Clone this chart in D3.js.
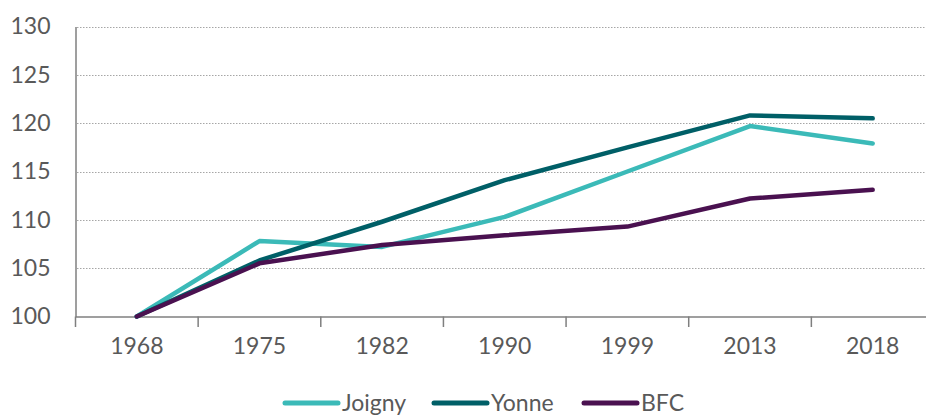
<!DOCTYPE html>
<html><head><meta charset="utf-8">
<script src="https://cdn.jsdelivr.net/npm/d3@7"></script>
<style>body{margin:0;background:#fff}svg{display:block}</style>
</head><body><svg id="c" width="926" height="416"></svg>
<script>
const years = ["1968","1975","1982","1990","1999","2013","2018"];
const joigny = [100, 107.8, 107.2, 110.3, 115.0, 119.7, 117.9];
const yonne  = [100, 105.8, 109.8, 114.1, 117.5, 120.8, 120.5];
const bfc    = [100, 105.5, 107.4, 108.4, 109.3, 112.2, 113.1];
const yTicks = [100,105,110,115,120,125,130];
const seriesNames = ["Joigny","Yonne","BFC"];
const colors = ["#3BBAB8","#005F67","#4A1150"];

const svg = d3.select("#c");
const font = "Lato, 'Open Sans', sans-serif";
const fs = 23;
const x = d3.scaleBand().domain(years).range([75.5, 934]);
const y = d3.scaleLinear().domain([100,130]).range([316.5, 26.5]);

// gridlines
svg.append("g").selectAll("line").data(yTicks.filter(t=>t>100)).join("line")
  .attr("x1",77).attr("x2",926).attr("y1",d=>Math.round(y(d))+0.5).attr("y2",d=>Math.round(y(d))+0.5)
  .attr("stroke","#a6a6a6").attr("stroke-width",1).attr("stroke-dasharray","1.5,1.5");

// y axis
const ya = svg.append("g").attr("transform","translate(75.5,0)")
  .call(d3.axisLeft(y).tickValues(yTicks).tickSize(0).tickPadding(25));
ya.select(".domain").attr("stroke","#7f7f7f").attr("stroke-width",1.5);
ya.selectAll("text").attr("font-family",font).attr("font-size",fs).attr("fill","#595959");

// x axis
const xa = svg.append("g").attr("transform","translate(0,316.5)")
  .call(d3.axisBottom(x).tickSize(0).tickPadding(21));
xa.select(".domain").attr("stroke","#7f7f7f").attr("stroke-width",1.5);
xa.selectAll("text").attr("font-family",font).attr("font-size",fs).attr("fill","#595959");
svg.append("g").selectAll("line").data(years).join("line")
  .attr("x1",d=>x(d)).attr("x2",d=>x(d)).attr("y1",316.5).attr("y2",327)
  .attr("stroke","#7f7f7f").attr("stroke-width",1.5);

// lines
const data = [joigny, yonne, bfc];
const line = d3.line().x((d,i)=>x(years[i])+x.bandwidth()/2).y(d=>y(d));
[0,1,2].forEach(k=>{
  svg.append("path").datum(data[k]).attr("d",line).attr("fill","none")
    .attr("stroke",colors[k]).attr("stroke-width",4.5).attr("stroke-linecap","round").attr("stroke-linejoin","round");
});

// legend
const lx = [285, 434, 584];
const lg = svg.append("g");
seriesNames.forEach((n,i)=>{
  lg.append("line").attr("x1",lx[i]).attr("x2",lx[i]+53).attr("y1",403).attr("y2",403)
    .attr("stroke",colors[i]).attr("stroke-width",5).attr("stroke-linecap","round");
  lg.append("text").attr("x",lx[i]+57).attr("y",411).text(n)
    .attr("font-family",font).attr("font-size",fs).attr("fill","#595959");
});
</script></body></html>
